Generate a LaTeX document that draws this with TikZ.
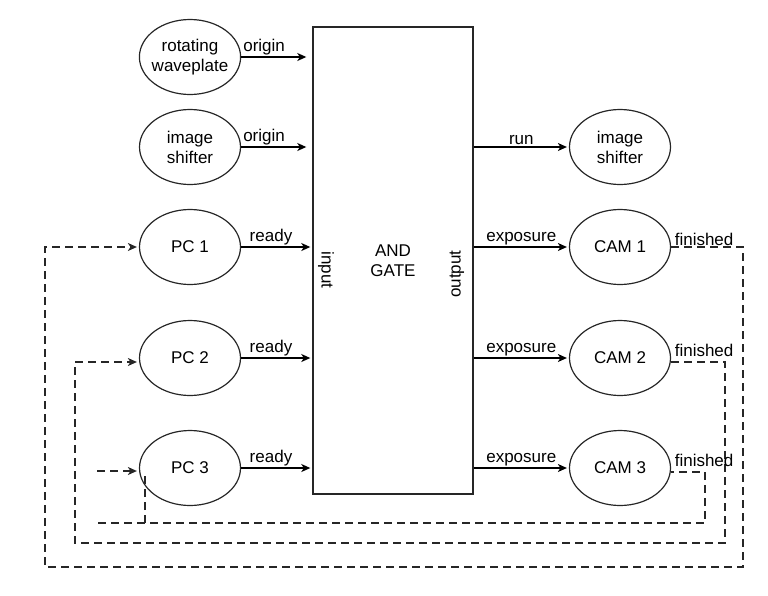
\documentclass[tikz,border=0pt]{standalone}
\usepackage{fontspec}
\setmainfont{Liberation Sans}
\usetikzlibrary{arrows.meta,calc,shapes.geometric}
\begin{document}
\begin{tikzpicture}[x=1pt,y=-1pt,
  every node/.style={font=\fontsize{17}{20}\selectfont},
  ell/.style={draw=black!85,line width=1.2pt,ellipse,minimum width=101,minimum height=75,inner sep=0pt,align=center},
  gatebox/.style={draw=black!85,line width=1.4pt,rectangle,minimum width=160,minimum height=467,inner sep=0pt,align=center},
  arr/.style={line width=1.3pt,-{Stealth[length=9pt,width=8pt,inset=2.5pt]},shorten >=2pt},
  fb/.style={line width=1.5pt,dash pattern=on 8pt off 5pt,black!85},
  fbarr/.style={fb,-{Stealth[length=9pt,width=8pt,inset=2.5pt]},shorten >=2pt},
  lbl/.style={inner sep=1.5pt}]
\useasboundingbox (0,0) rectangle (768,595);
% left nodes
\node[ell,inner sep=-2.5pt] (rw) at (190,57) {rotating\\waveplate};
\node[ell] (ish1) at (190,147) {image\\shifter};
\node[ell] (pc1) at (190,247) {PC 1};
\node[ell] (pc2) at (190,358) {PC 2};
\node[ell] (pc3) at (190,468) {PC 3};
% gate
\node[gatebox] (gate) at (393,260.5) {AND\\GATE};
\node[rotate=-90] (inlbl) at (326,270) {input};
\node[rotate=90] (outlbl) at (457,274) {output};
% right nodes
\node[ell] (ish2) at (620,147) {image\\shifter};
\node[ell] (cam1) at (620,247) {CAM 1};
\node[ell] (cam2) at (620,358) {CAM 2};
\node[ell] (cam3) at (620,468) {CAM 3};
% inputs
\draw[arr,shorten >=6pt] (rw.east) -- node[lbl,pos=0,anchor=south west]{origin} (gate.west |- rw.east);
\draw[arr,shorten >=6pt] (ish1.east) -- node[lbl,pos=0,anchor=south west]{origin} (gate.west |- ish1.east);
\draw[arr] (pc1.east) -- node[lbl,pos=0.42,anchor=south]{ready} (gate.west |- pc1.east);
\draw[arr] (pc2.east) -- node[lbl,pos=0.42,anchor=south]{ready} (gate.west |- pc2.east);
\draw[arr] (pc3.east) -- node[lbl,pos=0.42,anchor=south]{ready} (gate.west |- pc3.east);
% outputs
\draw[arr] (gate.east |- ish2.west) -- node[lbl,pos=0.5,anchor=south]{run} (ish2.west);
\draw[arr] (gate.east |- cam1.west) -- node[lbl,pos=0.5,anchor=south]{exposure} (cam1.west);
\draw[arr] (gate.east |- cam2.west) -- node[lbl,pos=0.5,anchor=south]{exposure} (cam2.west);
\draw[arr] (gate.east |- cam3.west) -- node[lbl,pos=0.5,anchor=south]{exposure} (cam3.west);
% feedback coordinates
\coordinate (c1a) at (743,567);
\coordinate (c1b) at (45,567);
\coordinate (c2a) at (725,543);
\coordinate (c2b) at (75,543);
\coordinate (c3a) at (705,523);
\coordinate (c3b) at (95,523);
\coordinate (c3m) at (145,523);
\coordinate (c3t) at (145,472);
\coordinate (c3s) at (97,471);
% feedback paths
\draw[fbarr] (cam1.east) -| (c1a) -- (c1b) |- (pc1.west);
\node[lbl,anchor=south west] (fin1) at ($(cam1.east)+(2,0)$) {finished};
\draw[fbarr] ($(cam2.east)+(0,4)$) -| (c2a) -- (c2b) |- ($(pc2.west)+(0,4)$);
\node[lbl,anchor=south west] (fin2) at ($(cam2.east)+(2,0)$) {finished};
\draw[fb,dash phase=5pt] ($(cam3.east)+(0,4)$) -| (c3a) -- (c3b);
\draw[fb] (c3m) -- (c3t);
\draw[fbarr] (c3s) -- ($(pc3.west)+(0,3)$);
\node[lbl,anchor=south west] (fin3) at ($(cam3.east)+(2,0)$) {finished};
\end{tikzpicture}
\end{document}
